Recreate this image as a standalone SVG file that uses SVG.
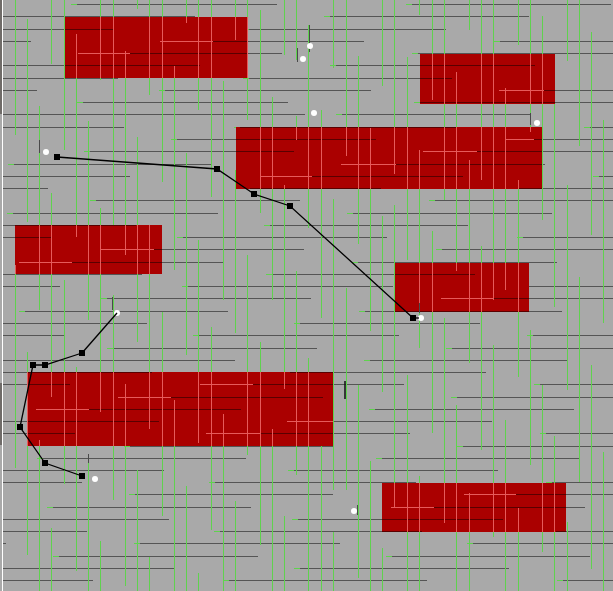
<svg xmlns="http://www.w3.org/2000/svg" xmlns:xlink="http://www.w3.org/1999/xlink" width="613" height="591" viewBox="0 0 613 591">
<style>
.bg{fill:#a9a9a9}
.blk{fill:#aa0000}
.hl{stroke:#555555;stroke-width:1;fill:none}
.hlr{stroke:#5a0000;stroke-width:1;fill:none}
.vg{stroke:#5fd24e;stroke-width:1;fill:none}
.vp{stroke:#e65a5a;stroke-width:1;fill:none}
.tick{stroke:#4a4a4a;stroke-width:1;fill:none}
.dot{fill:#ffffff}
.conn{stroke:#000;stroke-width:1.3;fill:none}
</style>
<defs>
<path id="hpath" d="M77 4H277M412 4H611M3 16H195M330 16H529M3 29H113M249 29H446M3 41H31M213 41H364M500 41H613M130 53H282M418 53H613M3 65H200M336 65H535M3 78H118M249 78H452M3 90H37M165 90H371M544 90H613M83 102H288M420 102H613M3 114H305M342 114H530M3 127H124M240 127H457M590 127H613M177 139H376M534 139H613M90 151H294M477 151H613M14 164H211M396 164H545M3 176H130M312 176H463M599 176H613M3 188H48M250 188H381M518 188H613M96 200H300M435 200H613M13 213H218M353 213H552M3 225H136M270 225H468M3 237H52M183 237H387M523 237H613M154 249H304M442 249H613M72 262H223M358 262H557M3 274H142M272 274H475M3 286H60M188 286H393M529 286H613M107 298H311M493 298H613M25 311H228M365 311H562M3 323H147M300 323H480M3 335H65M199 335H399M533 335H613M113 348H317M452 348H613M3 360H235M370 360H568M3 372H152M290 372H486M3 384H70M253 384H404M540 384H613M171 397H323M457 397H613M89 409H241M375 409H574M3 421H159M333 421H492M3 433H75M260 433H410M546 433H613M130 446H333M463 446H613M43 458H246M382 458H580M3 470H164M294 470H498M3 482H82M215 482H416M552 482H613M135 494H333M516 494H613M53 507H251M434 507H585M3 519H169M298 519H503M3 531H87M220 531H422M556 531H613M3 543H6M140 543H340M473 543H613M59 556H258M392 556H590M3 568H174M300 568H509M3 580H93M229 580H427M563 580H613"/>
<path id="vpath" d="M15 0V135M15 265V468M27 19V222M27 352V555M39 106V310M39 440V591M51 0V64M51 193V397M51 528V591M64 0V150M64 280V484M76 34V237M76 367V571M88 121V320M88 454V591M100 0V80M100 208V412M100 541V591M113 0V225M113 295V500M125 51V255M125 384V586M137 0V9M137 137V342M137 470V591M149 0V95M149 225V429M149 557V591M162 0V182M162 312V516M174 66V270M174 400V591M186 0V23M186 153V355M186 486V591M198 0V110M198 240V443M198 573V591M211 0V197M211 327V530M223 81V300M223 414V591M235 0V40M235 170V333M235 501V591M247 0V120M247 255V455M260 10V213M260 342V545M272 97V300M272 429V591M284 0V55M284 185V389M284 516V591M296 0V60M296 116V140M296 271V475M308 25V228M308 358V591M321 110V318M321 446V591M333 0V68M333 199V490M333 532V591M346 0V156M346 288V490M358 56V244M358 385V578M370 128V331M370 461V591M382 0V86M382 216V392M382 548V591M394 0V174M394 205V507M407 57V260M407 375V591M419 0V15M419 150V348M419 476V591M432 0V100M432 231V433M444 0V200M444 318V523M456 72V271M456 405V591M469 0V30M469 160V363M469 493V591M481 0V180M481 246V450M493 0V300M493 345V537M505 88V290M505 420V591M518 0V45M518 180V377M518 508V591M530 0V132M530 330V465M542 16V220M542 385V552M554 104V307M554 436V591M567 0V61M567 185V390M567 522V591M579 0V146M579 277V482M591 32V235M591 365V569M603 120V323M603 452V591"/>
<path id="tpath" d="M71 4H77M406 4H412M324 16H330M243 29H249M494 41H500M412 53H418M330 65H336M243 78H249M159 90H165M77 102H83M414 102H420M336 114H342M234 127H240M584 127H590M171 139H177M84 151H90M8 164H14M593 176H599M244 188H250M512 188H518M90 200H96M429 200H435M7 213H13M347 213H353M264 225H270M177 237H183M517 237H523M436 249H442M352 262H358M266 274H272M182 286H188M523 286H529M101 298H107M19 311H25M359 311H365M294 323H300M193 335H199M527 335H533M107 348H113M446 348H452M364 360H370M284 372H290M534 384H540M451 397H457M369 409H375M540 433H546M124 446H130M457 446H463M37 458H43M376 458H382M288 470H294M209 482H215M546 482H552M129 494H135M47 507H53M292 519H298M214 531H220M550 531H556M134 543H140M467 543H473M53 556H59M386 556H392M294 568H300M223 580H229M557 580H563"/>
<clipPath id="rc">
<rect x="65" y="17" width="183" height="61"/>
<rect x="420" y="54" width="135" height="50"/>
<rect x="236" y="127" width="306" height="62"/>
<rect x="15" y="225" width="147" height="49"/>
<rect x="395" y="263" width="134" height="49"/>
<rect x="27" y="372" width="306" height="74"/>
<rect x="382" y="483" width="184" height="49"/>
</clipPath>
<marker id="sq" markerUnits="userSpaceOnUse" markerWidth="8" markerHeight="8" refX="4" refY="4" viewBox="0 0 8 8">
<rect x="1" y="1" width="6" height="6" fill="#000"/>
</marker>
</defs>
<rect class="bg" x="0" y="0" width="613" height="591"/>
<g id="edge">
<rect x="0" y="0" width="2" height="114" fill="#6f6b68"/>
<rect x="0" y="383" width="2" height="62" fill="#6f6b68"/>
<path d="M2.5 0V591" stroke="#ffffff" stroke-width="1"/>
</g>
<g id="grid">
<use xlink:href="#hpath" href="#hpath" class="hl" transform="translate(0 0.5)"/>
<use xlink:href="#vpath" href="#vpath" class="vg" transform="translate(0.5 0)"/>
<use xlink:href="#tpath" href="#tpath" class="vg" transform="translate(0 0.5)"/>
</g>
<g id="block-1"><rect class="blk" x="65" y="17" width="183" height="61"/></g>
<g id="block-2"><rect class="blk" x="420" y="54" width="135" height="50"/></g>
<g id="block-3"><rect class="blk" x="236" y="127" width="306" height="62"/></g>
<g id="block-4"><rect class="blk" x="15" y="225" width="147" height="49"/></g>
<g id="block-5"><rect class="blk" x="395" y="263" width="134" height="49"/></g>
<g id="block-6"><rect class="blk" x="27" y="372" width="306" height="74"/></g>
<g id="block-7"><rect class="blk" x="382" y="483" width="184" height="49"/></g>
<g id="grid-over" clip-path="url(#rc)">
<use xlink:href="#hpath" href="#hpath" class="hlr" transform="translate(0 0.5)"/>
<use xlink:href="#vpath" href="#vpath" class="vp" transform="translate(0.5 0)"/>
<path class="vp" transform="translate(0 0.5)" d="M78 53H130M160 41H213M499 90H544M506 139H534M423 151H477M341 164H396M260 176H312M100 249H154M19 262H72M441 298H493M200 384H253M118 397H171M36 409H89M287 421H333M206 433H260M464 494H516M391 507H434"/>
</g>
<g id="marks">
<path class="tick" transform="translate(0.5 0)" d="M39 140V153M297 48V62M309 25V52M530 113V125M112 297V310M88 454V463M419 303V313M357 505V515"/>
<path d="M345 381V399" stroke="#111" stroke-width="1.5"/>
<circle class="dot" cx="46" cy="152" r="3"/>
<circle class="dot" cx="310" cy="46" r="3"/>
<circle class="dot" cx="303" cy="59" r="3"/>
<circle class="dot" cx="314" cy="113" r="3"/>
<circle class="dot" cx="537" cy="123" r="3"/>
<circle class="dot" cx="421" cy="318" r="3"/>
<circle class="dot" cx="117" cy="313" r="3"/>
<circle class="dot" cx="95" cy="479" r="3"/>
<circle class="dot" cx="354" cy="511" r="3"/>
</g>
<g id="connectors">
<polyline class="conn" points="57,157 217,169 254,194 290,206 413,318" marker-start="url(#sq)" marker-mid="url(#sq)" marker-end="url(#sq)"/>
<path class="conn" d="M413 318H419"/>
<path class="conn" d="M117 313L82 353"/>
<polyline class="conn" points="82,353 45,365 33,365 20,427 45,463 82,476" marker-start="url(#sq)" marker-mid="url(#sq)" marker-end="url(#sq)"/>
</g>
</svg>
